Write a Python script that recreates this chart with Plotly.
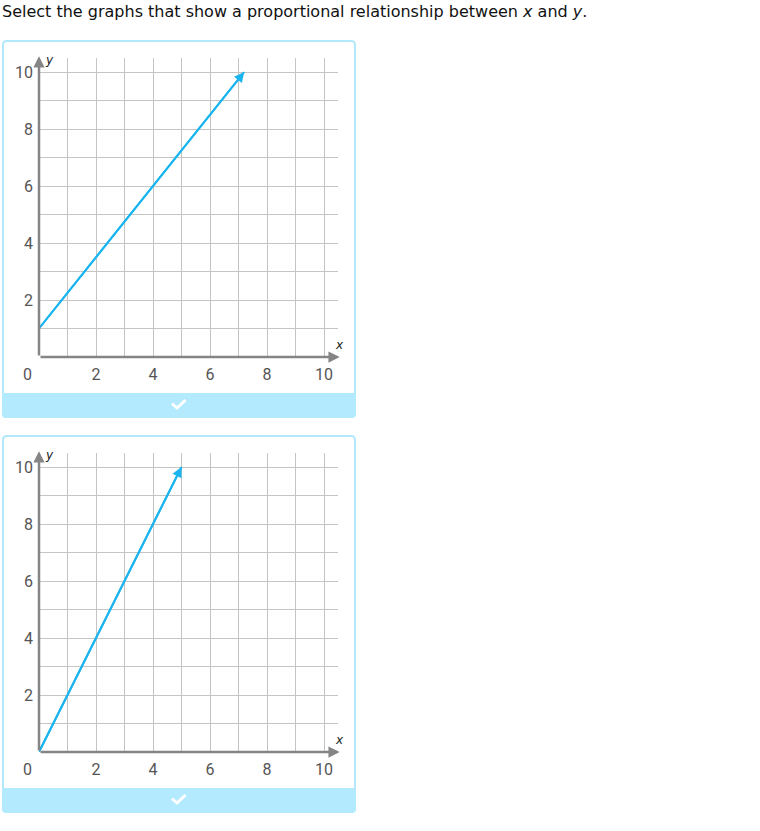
import plotly.graph_objects as go

W, H = 760, 831

# ---- data ----
title_text = "Select the graphs that show a proportional relationship between <i>x</i> and <i>y</i>."
grid_vals = [0, 1, 2, 3, 4, 5, 6, 7, 8, 9, 10]
tick_text = ["", "", "2", "", "4", "", "6", "", "8", "", "10"]
axis_max = 10.5
line1_x = [0, 7.2]
line1_y = [1, 10]
line2_x = [0, 5]
line2_y = [0, 10]
lines = [(line1_x, line1_y), (line2_x, line2_y)]

LINE_COLOR = "#1ab5ee"
AXIS_COLOR = "#858585"
GRID_COLOR = "#c4c4c4"
BORDER = "#b3e8fc"
BAR = "#b3eafd"
TICK_COLOR = "#555555"

def px(x):
    return x / W

def py(y):
    return 1 - y / H

fig = go.Figure()

panel_offsets = [0, 395]
layout_axes = {}
shapes = []
annotations = []

def rounded_rect(x0, y0, x1, y1, r, top=True, bottom=True):
    rt = r if top else 0
    rb = r if bottom else 0
    d = f"M {px(x0 + rt)},{py(y0)} L {px(x1 - rt)},{py(y0)} "
    if rt:
        d += f"Q {px(x1)},{py(y0)} {px(x1)},{py(y0 + rt)} "
    d += f"L {px(x1)},{py(y1 - rb)} "
    if rb:
        d += f"Q {px(x1)},{py(y1)} {px(x1 - rb)},{py(y1)} "
    d += f"L {px(x0 + rb)},{py(y1)} "
    if rb:
        d += f"Q {px(x0)},{py(y1)} {px(x0)},{py(y1 - rb)} "
    d += f"L {px(x0)},{py(y0 + rt)} "
    if rt:
        d += f"Q {px(x0)},{py(y0)} {px(x0 + rt)},{py(y0)} "
    d += "Z"
    return d

TICKFONT = dict(family="Roboto", size=16, color=TICK_COLOR)

for i, off in enumerate(panel_offsets):
    k = "" if i == 0 else str(i + 1)
    xa = "x" + k
    ya = "y" + k
    x0p, x1p = 39, 39 + axis_max * 28.5
    y0p = 357 + off
    y1p = y0p - axis_max * 28.5
    layout_axes["xaxis" + k] = dict(
        domain=[px(x0p), px(x1p)], range=[0, axis_max], anchor=ya,
        tickvals=grid_vals, ticktext=tick_text, showgrid=True,
        gridcolor=GRID_COLOR, gridwidth=1.3, zeroline=False, showline=False,
        ticks="", ticklabelstandoff=6, tickfont=TICKFONT, fixedrange=True,
    )
    layout_axes["yaxis" + k] = dict(
        domain=[py(y0p), py(y1p)], range=[0, axis_max], anchor=xa,
        tickvals=grid_vals, ticktext=tick_text, showgrid=True,
        gridcolor=GRID_COLOR, gridwidth=1.3, zeroline=False, showline=False,
        ticks="", ticklabelstandoff=5, tickfont=TICKFONT, fixedrange=True,
    )

    # panel border and bottom bar
    bx0, bx1 = 2, 356
    by0, by1 = 40 + off, 418 + off
    shapes.append(dict(type="path", xref="paper", yref="paper",
                       path=rounded_rect(bx0 + 1, by0 + 1, bx1 - 1, by1 - 1, 4),
                       line=dict(color=BORDER, width=2), fillcolor="rgba(0,0,0,0)", layer="below"))
    shapes.append(dict(type="path", xref="paper", yref="paper",
                       path=rounded_rect(bx0, 393 + off, bx1, by1, 4, top=False),
                       line=dict(width=0), fillcolor=BAR, layer="above"))
    shapes.append(dict(type="path", xref="paper", yref="paper",
                       path=f"M {px(172)},{py(403.5 + off)} L {px(177)},{py(408 + off)} L {px(185.5)},{py(400 + off)}",
                       line=dict(color="white", width=3), layer="above"))

    # data line
    lx, ly = lines[i]
    fig.add_trace(go.Scatter(x=lx, y=ly, mode="lines", xaxis=xa, yaxis=ya,
                             line=dict(color=LINE_COLOR, width=2), showlegend=False,
                             hoverinfo="skip", cliponaxis=False))
    annotations.append(dict(x=lx[-1], y=ly[-1], ax=lx[-2], ay=ly[-2], xref=xa, yref=ya,
                            axref=xa, ayref=ya, text="", showarrow=True, arrowhead=2,
                            arrowsize=1.0, arrowwidth=2, arrowcolor=LINE_COLOR))

    # axes with arrows
    annotations.append(dict(x=axis_max + 0.05, y=0, ax=0, ay=0, xref=xa, yref=ya,
                            axref=xa, ayref=ya, text="", showarrow=True, arrowhead=2,
                            arrowsize=0.9, arrowwidth=2.5, arrowcolor=AXIS_COLOR))
    annotations.append(dict(x=0, y=axis_max + 0.05, ax=0, ay=0, xref=xa, yref=ya,
                            axref=xa, ayref=ya, text="", showarrow=True, arrowhead=2,
                            arrowsize=0.9, arrowwidth=2.5, arrowcolor=AXIS_COLOR))

    # labels
    annotations.append(dict(x=px(28), y=py(374 + off), xref="paper", yref="paper",
                            xanchor="center", yanchor="middle",
                            text="0", showarrow=False, font=TICKFONT))
    annotations.append(dict(x=px(49.5), y=py(60 + off), xref="paper", yref="paper",
                            xanchor="center", yanchor="middle",
                            text="<i>y</i>", showarrow=False,
                            font=dict(family="DejaVu Sans", size=12, color="#222")))
    annotations.append(dict(x=px(339), y=py(345 + off), xref="paper", yref="paper",
                            xanchor="center", yanchor="middle",
                            text="<i>x</i>", showarrow=False,
                            font=dict(family="DejaVu Sans", size=12, color="#222")))

annotations.append(dict(x=0, y=py(12), xref="paper", yref="paper",
                        xanchor="left", yanchor="middle",
                        text=title_text, showarrow=False,
                        font=dict(family="DejaVu Sans", size=16, color="#111")))

fig.update_layout(
    width=W, height=H, margin=dict(l=0, r=0, t=0, b=0),
    paper_bgcolor="white", plot_bgcolor="white",
    shapes=shapes, annotations=annotations, showlegend=False,
    **layout_axes,
)

fig.write_html("out.html", config={"displayModeBar": False},
               post_script="document.body.style.margin='0';document.body.style.overflow='hidden';")
